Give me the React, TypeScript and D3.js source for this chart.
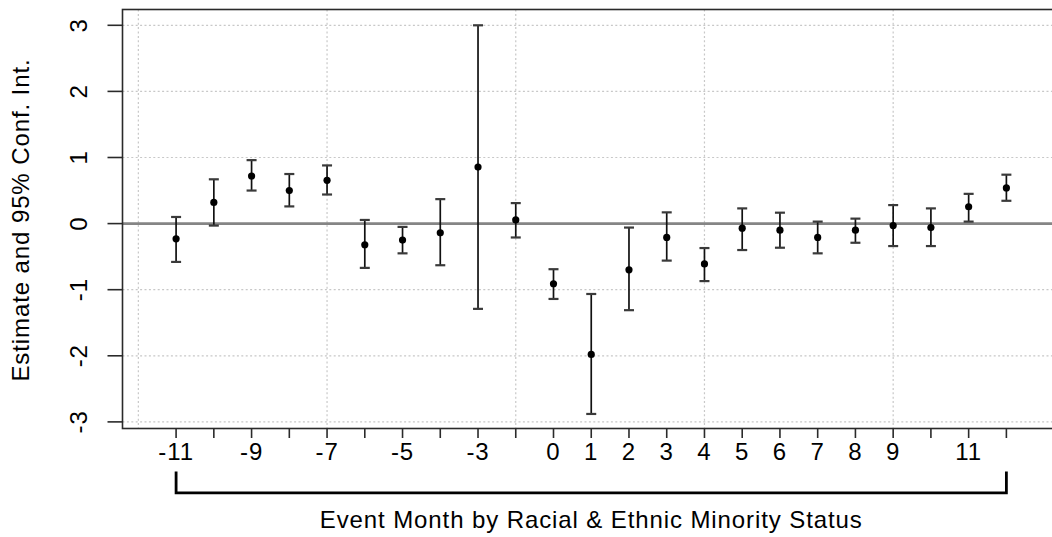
import React from "react";
import * as d3 from "d3";

// Event months (month -1 is the omitted reference period)
const months: number[] = [-11, -10, -9, -8, -7, -6, -5, -4, -3, -2, 0, 1, 2, 3, 4, 5, 6, 7, 8, 9, 10, 11, 12];
const estimates: number[] = [-0.23, 0.32, 0.72, 0.5, 0.655, -0.32, -0.25, -0.14, 0.855, 0.055, -0.91, -1.98, -0.7, -0.21, -0.61, -0.07, -0.1, -0.21, -0.1, -0.03, -0.06, 0.255, 0.54];
const upper95: number[] = [0.1, 0.67, 0.96, 0.75, 0.88, 0.055, -0.05, 0.37, 3.0, 0.31, -0.69, -1.065, -0.06, 0.17, -0.37, 0.23, 0.165, 0.03, 0.075, 0.28, 0.23, 0.45, 0.74];
const lower95: number[] = [-0.58, -0.03, 0.5, 0.26, 0.44, -0.67, -0.45, -0.63, -1.29, -0.21, -1.14, -2.88, -1.31, -0.56, -0.87, -0.4, -0.365, -0.45, -0.29, -0.34, -0.34, 0.03, 0.345];
// Labels drawn under the ticks; blanks are the ones that would overlap
const tickLabels: string[] = ["-11", "", "-9", "", "-7", "", "-5", "", "-3", "", "0", "1", "2", "3", "4", "5", "6", "7", "8", "9", "", "11", ""];
const yTicks: number[] = [-3, -2, -1, 0, 1, 2, 3];
const xGrid: number[] = [0, 5, 10, 15, 20];

const W = 1052;
const H = 537;
const FONT = "'Liberation Sans', Arial, sans-serif";

export default function App() {
  const plotL = 122.5;
  const plotT = 9.5;
  const plotB = 428.5;
  const plotR = 1063;

  const x = d3.scaleLinear().domain([-0.42, 24.5]).range([plotL, plotR]);
  const y = d3.scaleLinear().domain([-3.1, 3.239]).range([plotB, plotT]);

  const idx = months.map((_, i) => i + 1);
  const xFirst = x(idx[0]);
  const xLast = x(idx[idx.length - 1]);
  const capHalf = 5;

  const textStyle: React.CSSProperties = { fontFamily: FONT, fontSize: 24, letterSpacing: 0.9 };

  return (
    <svg
      width={W}
      height={H}
      style={{ position: "absolute", left: 0, top: 0, background: "#fff" }}
    >
      {/* grid */}
      <g stroke="#c8c8c8" strokeWidth={1.2} strokeDasharray="2 2.4">
        {yTicks.map((t) => (
          <line key={"gy" + t} x1={plotL} x2={plotR} y1={y(t)} y2={y(t)} />
        ))}
        {xGrid.map((g) => (
          <line key={"gx" + g} x1={x(g)} x2={x(g)} y1={plotT} y2={plotB} />
        ))}
      </g>

      {/* zero reference line */}
      <line x1={plotL} x2={plotR} y1={y(0)} y2={y(0)} stroke="#858585" strokeWidth={2.6} />

      {/* plot frame */}
      <rect
        x={plotL}
        y={plotT}
        width={plotR - plotL}
        height={plotB - plotT}
        fill="none"
        stroke="#2a2a2a"
        strokeWidth={1.6}
      />

      {/* y axis */}
      <g>
        {yTicks.map((t) => (
          <g key={"yt" + t}>
            <line x1={plotL - 15} x2={plotL} y1={y(t)} y2={y(t)} stroke="#2a2a2a" strokeWidth={1.6} />
            <text
              transform={`translate(87,${y(t)}) rotate(-90)`}
              textAnchor="middle"
              style={textStyle}
              fill="#000"
            >
              {t}
            </text>
          </g>
        ))}
        <text
          transform={`translate(29,${(58 + 382) / 2}) rotate(-90)`}
          textAnchor="middle"
          style={textStyle}
          fill="#000"
        >
          Estimate and 95% Conf. Int.
        </text>
      </g>

      {/* x axis */}
      <g>
        {idx.map((i, k) => (
          <g key={"xt" + k}>
            <line x1={x(i)} x2={x(i)} y1={plotB} y2={plotB + 9.5} stroke="#2a2a2a" strokeWidth={1.6} />
            {tickLabels[k] !== "" && (
              <text x={x(i)} y={460} textAnchor="middle" style={textStyle} fill="#000">
                {tickLabels[k]}
              </text>
            )}
          </g>
        ))}
        <path
          d={`M${xFirst},471.5 V492.8 H${xLast} V471.5`}
          fill="none"
          stroke="#000"
          strokeWidth={2.8}
        />
        <text x={(xFirst + xLast) / 2} y={528} textAnchor="middle" style={textStyle} fill="#000">
          Event Month by Racial &amp; Ethnic Minority Status
        </text>
      </g>

      {/* estimates with 95% intervals */}
      <g>
        {idx.map((i, k) => {
          const cx = x(i);
          return (
            <g key={"pt" + k}>
              <line x1={cx} x2={cx} y1={y(upper95[k])} y2={y(lower95[k])} stroke="#111" strokeWidth={1.7} />
              <line x1={cx - capHalf} x2={cx + capHalf} y1={y(upper95[k])} y2={y(upper95[k])} stroke="#3a3a3a" strokeWidth={2.2} />
              <line x1={cx - capHalf} x2={cx + capHalf} y1={y(lower95[k])} y2={y(lower95[k])} stroke="#3a3a3a" strokeWidth={2.2} />
              <circle cx={cx} cy={y(estimates[k])} r={3.6} fill="#000" />
            </g>
          );
        })}
      </g>
    </svg>
  );
}
